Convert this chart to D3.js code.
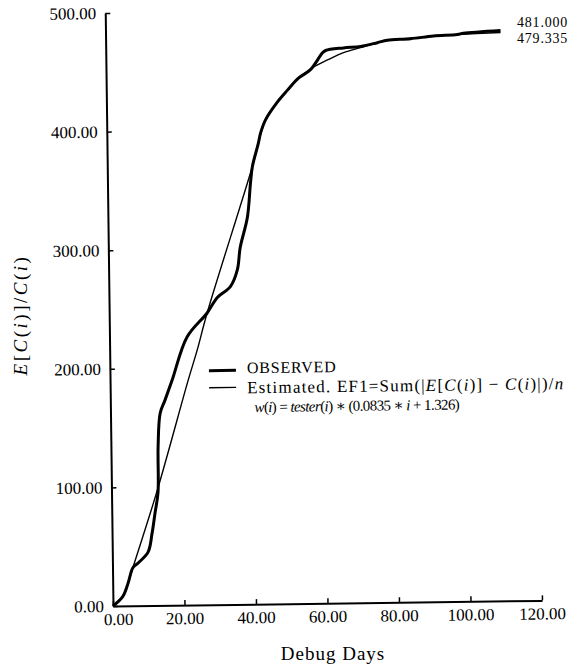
<!DOCTYPE html>
<html>
<head>
<meta charset="utf-8">
<script src="https://cdn.jsdelivr.net/npm/d3@7"></script>
<style>
  body { margin: 0; background: #fff; }
  text { font-family: "Liberation Serif", "DejaVu Serif", serif; fill: #000; }
</style>
</head>
<body>
<script>
// values
const xTicks = [0, 20, 40, 60, 80, 100, 120]
const yTicks = [0, 100, 200, 300, 400, 500]

const obsDays = [0, 2.8, 4.3, 5.7, 7.2, 10.0, 11.2, 12.1, 13.0, 13.2, 13.9, 15.3, 17.4, 21.7, 27.4, 30.3, 34.0, 36.0, 36.9, 39.0, 40.0, 40.6, 42.3, 43.0, 44.4, 47.8, 50.7, 53.8, 57.2, 60.6, 61.5, 66.5, 71.3, 76.0, 78.8, 85.3, 91.7, 98.4, 100.1, 110.5]
const obsValues = [0, 8, 19, 32, 36, 45, 61, 78, 95, 134, 162, 173, 190, 226, 246, 259, 268, 282, 301, 326, 355, 369, 388, 397, 408, 423, 433, 443, 450, 464, 466, 468, 469, 472, 474, 475, 477, 478, 479, 481]

const estDays = [0, 2.8, 4.3, 5.7, 12.8, 21.9, 24.5, 27.4, 40.6, 44.4, 47.8, 50.7, 53.8, 58.0, 62.0, 66.5, 71.3, 74.9, 78.8, 85.3, 91.7, 98.4, 110.5]
const estValues = [0, 8, 19, 32, 97, 190, 215, 246, 369, 408, 423, 433, 443, 452, 458, 464, 468, 471, 474, 475.5, 477, 478, 479.3]

const endLabels = ['481.000', '479.335']

const W = 586, H = 664

const svg = d3.select('body').append('svg')
    .attr('width', W)
    .attr('height', H)

const x = d3.scaleLinear().domain([0, 120]).range([113, 542])
const y = d3.scaleLinear().domain([0, 500]).range([606, 13])

// the scan is slightly tilted
const g = svg.append('g').attr('transform', 'rotate(-0.75,113,606)')

const xAxis = d3.axisBottom(x)
    .tickValues(xTicks)
    .tickFormat(d3.format('.2f'))
    .tickSizeInner(-5)
    .tickSizeOuter(0)
    .tickPadding(7)

const yAxis = d3.axisLeft(y)
    .tickValues(yTicks)
    .tickFormat(d3.format('.2f'))
    .tickSizeInner(-5)
    .tickSizeOuter(0)
    .tickPadding(9)

const gx = g.append('g')
    .attr('transform', `translate(0,${y(0)})`)
    .call(xAxis)
gx.select('.domain').attr('stroke-width', 2)
gx.selectAll('.tick line').attr('stroke-width', 1.5)
gx.selectAll('.tick text')
    .style('font-size', '17px')
    .attr('dx', d => d === 0 ? 5 : 0)

const gy = g.append('g')
    .attr('transform', `translate(${x(0)},0)`)
    .call(yAxis)
gy.select('.domain').attr('stroke-width', 2)
gy.selectAll('.tick line').attr('stroke-width', 1.5)
gy.selectAll('.tick text').style('font-size', '17px')

const line = d3.line()
    .x(d => x(d[0]))
    .y(d => y(d[1]))
    .curve(d3.curveCatmullRom.alpha(0.5))

g.append('path')
    .datum(d3.zip(estDays, estValues))
    .attr('d', line)
    .attr('fill', 'none')
    .attr('stroke', '#000')
    .attr('stroke-width', 1.4)

g.append('path')
    .datum(d3.zip(obsDays, obsValues))
    .attr('d', line)
    .attr('fill', 'none')
    .attr('stroke', '#000')
    .attr('stroke-width', 3)
    .attr('stroke-linejoin', 'round')

// legend
const legend = g.append('g')

legend.append('line')
    .attr('x1', 212).attr('x2', 239)
    .attr('y1', 372).attr('y2', 372)
    .attr('stroke', '#000').attr('stroke-width', 3)

legend.append('line')
    .attr('x1', 212).attr('x2', 239)
    .attr('y1', 389).attr('y2', 389)
    .attr('stroke', '#000').attr('stroke-width', 1.4)

legend.append('text')
    .attr('x', 250).attr('y', 375)
    .style('font-size', '16px')
    .style('letter-spacing', '0.8px')
    .text('OBSERVED')

function richText(parent, parts, px, py, size, spacing) {
    let t = parent.append('text')
        .attr('x', px).attr('y', py)
        .style('font-size', size + 'px')
        .style('letter-spacing', spacing + 'px')
    parts.forEach(p => {
        t.append('tspan')
            .style('font-style', p[1] ? 'italic' : 'normal')
            .text(p[0])
    })
    return t
}

richText(legend, [
    ['Estimated. EF1=Sum(|', 0], ['E', 1], ['[', 0], ['C', 1], ['(', 0], ['i', 1],
    [')] − ', 0], ['C', 1], ['(', 0], ['i', 1], [')|)/', 0], ['n', 1]
], 250, 395, 17, 1.2)

richText(legend, [
    ['w', 1], ['(', 0], ['i', 1], [') = ', 0], ['tester', 1], ['(', 0], ['i', 1],
    [') ∗ (0.0835 ∗ ', 0], ['i', 1], [' + 1.326)', 0]
], 257, 414, 15, -0.6)

// values at the end of the curves
svg.selectAll('.endlabel')
    .data(endLabels)
    .enter().append('text')
    .attr('class', 'endlabel')
    .attr('x', 517)
    .attr('y', (d, i) => 27 + i * 16)
    .style('font-size', '14px')
    .style('letter-spacing', '0.8px')
    .text(d => d)

// axis titles
svg.append('text')
    .attr('x', 333).attr('y', 660)
    .attr('text-anchor', 'middle')
    .style('font-size', '19px')
    .style('letter-spacing', '1px')
    .text('Debug Days')

richText(svg, [['E', 1], ['[', 0], ['C', 1], ['(', 0], ['i', 1], [')]/', 0], ['C', 1], ['(', 0], ['i', 1], [')', 0]], 0, 0, 19, 2.5)
    .attr('transform', 'translate(27,315) rotate(-90)')
    .attr('text-anchor', 'middle')
</script>
</body>
</html>
